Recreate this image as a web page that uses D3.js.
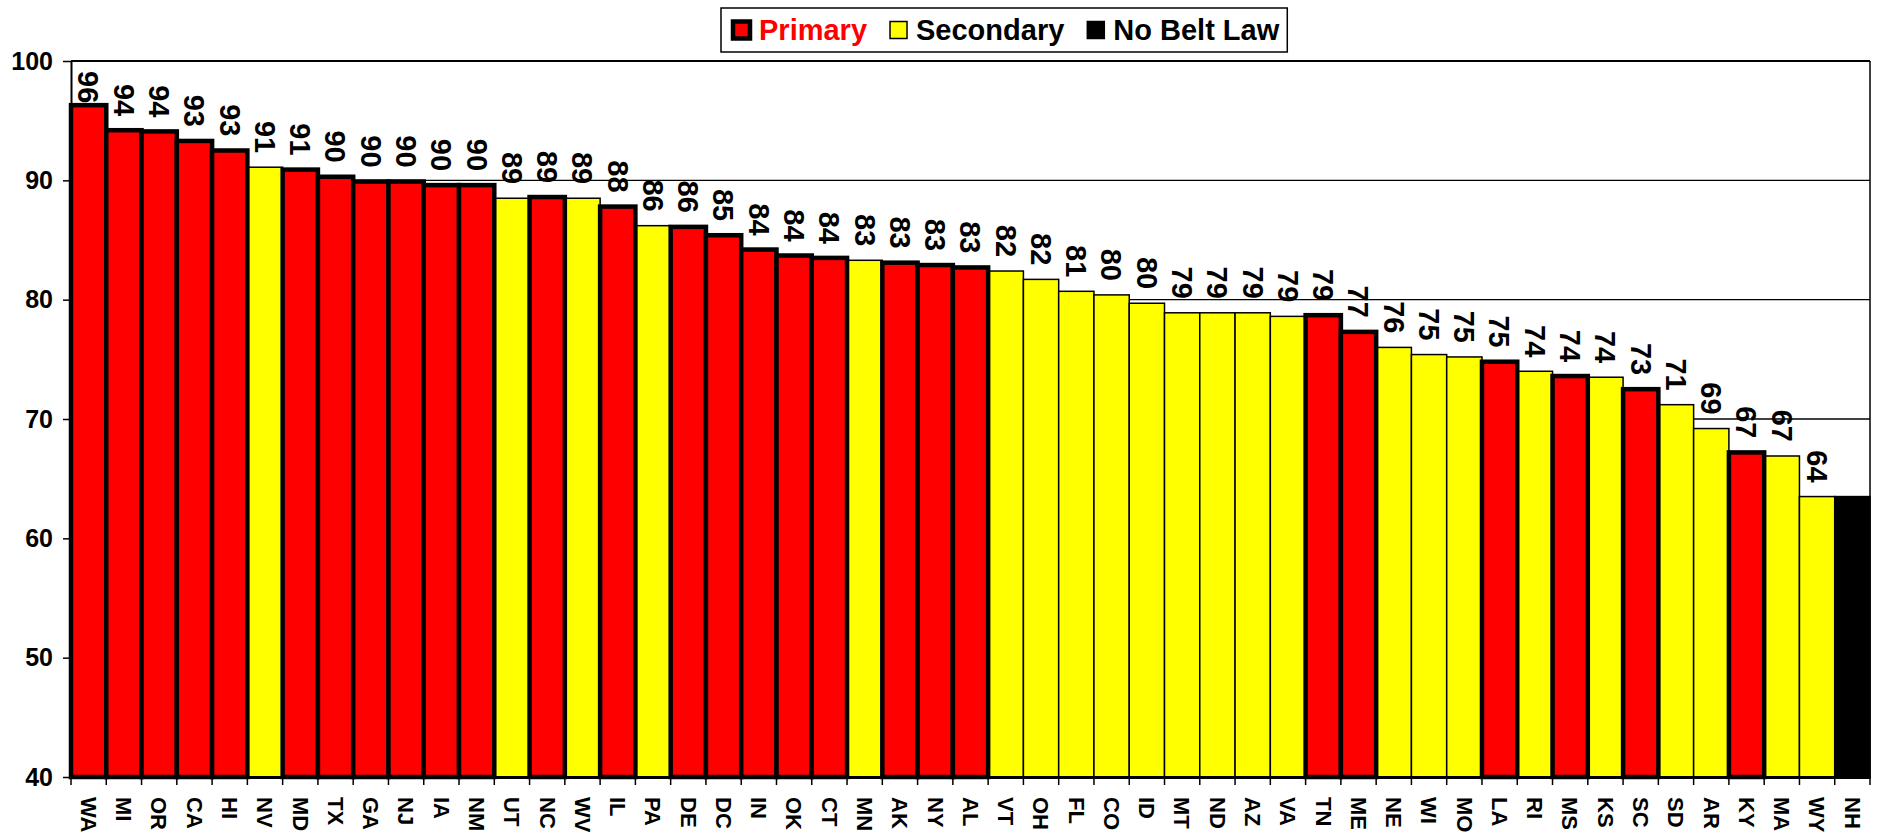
<!DOCTYPE html>
<html>
<head>
<meta charset="utf-8">
<script src="https://cdnjs.cloudflare.com/ajax/libs/d3/7.8.5/d3.min.js"></script>
<style>
body { margin: 0; background: #fff; }
svg { display: block; font-family: "Liberation Sans", Arial, sans-serif; font-weight: bold; }
</style>
</head>
<body>
<div class="chart"></div>
<script>
var states = ["WA","MI","OR","CA","HI","NV","MD","TX","GA","NJ","IA","NM","UT","NC","WV","IL","PA","DE","DC","IN",
  "OK","CT","MN","AK","NY","AL","VT","OH","FL","CO","ID","MT","ND","AZ","VA","TN","ME","NE","WI","MO",
  "LA","RI","MS","KS","SC","SD","AR","KY","MA","WY","NH"];
// P = primary law, S = secondary law, N = no belt law
var lawTypes = ["P","P","P","P","P","S","P","P","P","P","P","P","S","P","S","P","S","P","P","P",
  "P","P","S","P","P","P","S","S","S","S","S","S","S","S","S","P","P","S","S","S",
  "P","S","P","S","P","S","S","P","S","S","N"];
var usage = [96.3,94.2,94.1,93.3,92.5,91.1,90.9,90.3,89.9,89.9,89.6,89.6,88.5,88.6,88.5,87.8,86.2,86.1,85.4,84.2,
  83.7,83.5,83.3,83.1,82.9,82.7,82.4,81.7,80.7,80.4,79.7,78.9,78.9,78.9,78.6,78.7,77.3,76.0,75.4,75.2,
  74.8,74.0,73.6,73.5,72.5,71.2,69.2,67.2,66.9,63.5,63.5];
var yTicks = [40,50,60,70,80,90,100];
var legendKeys = ["P","S","N"];
var legendNames = ["Primary","Secondary","No Belt Law"];

var width = 1877;
var height = 834;
var margin = {top: 61, right: 7, bottom: 57, left: 71};

var fills = {P: "#ff0000", S: "#ffff00", N: "#000000"};
var strokes = {P: 4.5, S: 1.5, N: 1.5};

var data = states.map(function(s, i) {
  return {state: s, law: lawTypes[i], value: usage[i]};
});

var svg = d3.select(".chart")
  .append("svg")
  .attr("width", width)
  .attr("height", height);

var xScale = d3.scaleBand()
  .domain(states)
  .range([margin.left, width - margin.right])
  .padding(0);
var yScale = d3.scaleLinear()
  .domain([40, 100])
  .range([height - margin.bottom, margin.top]);

var x0 = margin.left, x1 = width - margin.right;
var yBase = yScale(40);

// gridlines
svg.append("g")
  .selectAll("line")
  .data(yTicks.filter(function(t) { return t > 40; }))
  .enter().append("line")
    .attr("x1", x0)
    .attr("x2", x1)
    .attr("y1", function(d) { return yScale(d); })
    .attr("y2", function(d) { return yScale(d); })
    .attr("stroke", "#000")
    .attr("stroke-width", function(d) { return d === 100 ? 2 : 1.3; });

// right border
svg.append("line")
  .attr("x1", x1).attr("x2", x1)
  .attr("y1", yScale(100)).attr("y2", yBase)
  .attr("stroke", "#000")
  .attr("stroke-width", 1.5);

// secondary / none first, primary on top so the thick outline shows
var ordered = data.filter(function(d) { return d.law !== "P"; })
  .concat(data.filter(function(d) { return d.law === "P"; }));

svg.append("g")
  .selectAll("rect")
  .data(ordered)
  .enter().append("rect")
    .attr("x", function(d) { return xScale(d.state); })
    .attr("y", function(d) { return yScale(d.value); })
    .attr("width", xScale.bandwidth())
    .attr("height", function(d) { return yBase - yScale(d.value); })
    .attr("fill", function(d) { return fills[d.law]; })
    .attr("stroke", "#000")
    .attr("stroke-width", function(d) { return strokes[d.law]; });

// x axis
var xAxis = d3.axisBottom(xScale).tickSize(0).tickSizeOuter(0);
var gx = svg.append("g")
  .attr("transform", "translate(0," + yBase + ")")
  .call(xAxis);
gx.select(".domain").attr("stroke-width", 3);
gx.selectAll("text")
  .attr("transform", "rotate(90)")
  .attr("x", 20)
  .attr("y", 0)
  .attr("dy", "0.35em")
  .attr("text-anchor", "start")
  .attr("font-size", "22px")
  .attr("font-weight", "bold")
  .attr("font-family", "Liberation Sans, Arial, sans-serif")
  .attr("fill", "#000");

// category boundary ticks
gx.selectAll(".bound")
  .data(d3.range(states.length + 1))
  .enter().append("line")
    .attr("class", "bound")
    .attr("x1", function(i) { return x0 + i * xScale.step(); })
    .attr("x2", function(i) { return x0 + i * xScale.step(); })
    .attr("y1", 0)
    .attr("y2", 8)
    .attr("stroke", "#000")
    .attr("stroke-width", 1.5);

// y axis
var yAxis = d3.axisLeft(yScale)
  .tickValues(yTicks)
  .tickSize(8)
  .tickPadding(10)
  .tickSizeOuter(0);
var gy = svg.append("g")
  .attr("transform", "translate(" + x0 + ",0)")
  .call(yAxis);
gy.select(".domain").attr("stroke-width", 2);
gy.selectAll(".tick line").attr("stroke-width", 1.5);
gy.selectAll("text")
  .attr("font-size", "25px")
  .attr("font-weight", "bold")
  .attr("font-family", "Liberation Sans, Arial, sans-serif")
  .attr("fill", "#000");

// value labels
svg.append("g")
  .selectAll("text")
  .data(data.filter(function(d) { return d.law !== "N"; }))
  .enter().append("text")
    .attr("text-anchor", "end")
    .attr("dy", "0.35em")
    .attr("font-size", "29px")
    .text(function(d) { return Math.round(d.value); })
    .each(function(d) {
      var len = this.getComputedTextLength();
      var end = Math.max(yScale(d.value) - 14, margin.top + 10 + len);
      d3.select(this).attr("transform",
        "translate(" + (xScale(d.state) + xScale.bandwidth() / 2) + "," + end + ") rotate(90)");
    });

// legend
var legend = svg.append("g");
var box = legend.append("rect")
  .attr("x", 721)
  .attr("y", 8)
  .attr("height", 44)
  .attr("fill", "#fff")
  .attr("stroke", "#000")
  .attr("stroke-width", 1.5);

var lx = 731;
legendKeys.forEach(function(k, i) {
  var s = 17;
  legend.append("rect")
    .attr("x", lx + 2)
    .attr("y", 30 - s / 2)
    .attr("width", s)
    .attr("height", s)
    .attr("fill", fills[k])
    .attr("stroke", "#000")
    .attr("stroke-width", strokes[k]);
  var t = legend.append("text")
    .attr("x", lx + 28)
    .attr("y", 30)
    .attr("dy", "0.35em")
    .attr("font-size", "29px")
    .attr("fill", k === "P" ? "#ff0000" : "#000")
    .text(legendNames[i]);
  lx = lx + 28 + t.node().getComputedTextLength() + 21;
});
box.attr("width", lx - 21 + 8 - 721);
</script>
</body>
</html>
